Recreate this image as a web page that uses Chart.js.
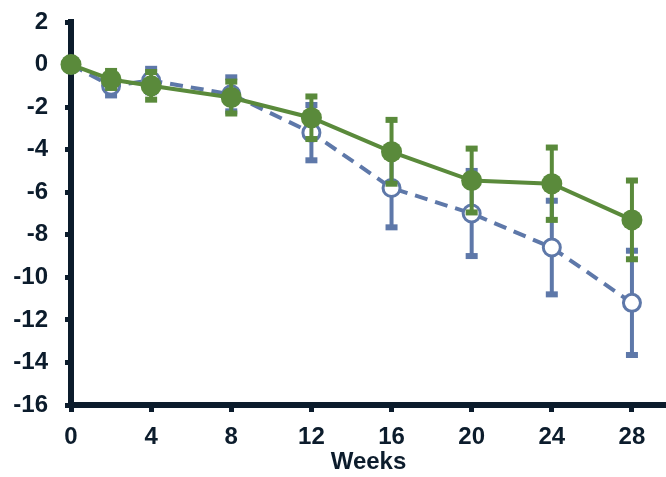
<!DOCTYPE html>
<html>
<head>
<meta charset="utf-8">
<script src="https://cdn.jsdelivr.net/npm/chart.js@4"></script>
<style>
  html, body { margin: 0; padding: 0; background: #fff; }
  #wrap { width: 666px; height: 477px; }
</style>
</head>
<body>
<div id="wrap"><canvas id="chart" width="666" height="477"></canvas></div>
<script>
// data
const weeks = [0, 2, 4, 8, 12, 16, 20, 24, 28];
const greenMean = [0, -0.7, -1.0, -1.55, -2.5, -4.1, -5.45, -5.6, -7.3];
const greenErr = [0, 0.4, 0.65, 0.75, 1.0, 1.5, 1.5, 1.7, 1.85];
const blueMean = [0, -1.0, -0.75, -1.4, -3.2, -5.8, -7.0, -8.6, -11.2];
const blueErr = [0, 0.45, 0.55, 0.8, 1.3, 1.85, 2.0, 2.2, 2.45];
const yTicks = [2, 0, -2, -4, -6, -8, -10, -12, -14, -16];

const GREEN = "#5a8a3b";
const BLUE = "#5e78a9";
const INK = "#0c1c2c";
const FONT = "'Liberation Sans', Arial, sans-serif";

function toPoints(means) {
    return weeks.map((w, i) => ({ x: w, y: means[i] }));
}

// draws error bars with the dataset's own scales, before its line
const errorBars = {
    id: "errorBars",
    beforeDatasetDraw(chart, args) {
        const ds = chart.data.datasets[args.index];
        if (!ds.errors) return;
        const xs = chart.scales.x, ys = chart.scales.y;
        const ctx = chart.ctx;
        ctx.save();
        ctx.strokeStyle = ds.borderColor;
        ctx.fillStyle = ds.borderColor;
        ctx.lineWidth = 4;
        ctx.setLineDash([]);
        ds.data.forEach((p, i) => {
            const e = ds.errors[i];
            if (!e) return;
            const px = xs.getPixelForValue(p.x);
            const top = ys.getPixelForValue(p.y + e);
            const bot = ys.getPixelForValue(p.y - e);
            ctx.beginPath();
            ctx.moveTo(px, top);
            ctx.lineTo(px, bot);
            ctx.stroke();
            ctx.fillRect(px - 6, top - 3, 12, 6);
            ctx.fillRect(px - 6, bot - 3, 12, 6);
        });
        ctx.restore();
    }
};

new Chart(document.getElementById("chart"), {
    type: "line",
    data: {
        datasets: [
            {
                label: "green",
                data: toPoints(greenMean),
                errors: greenErr,
                borderColor: GREEN,
                backgroundColor: GREEN,
                borderWidth: 4,
                pointRadius: 10.5,
                pointBorderWidth: 0,
                pointBackgroundColor: GREEN,
                tension: 0,
                clip: false
            },
            {
                label: "blue",
                data: toPoints(blueMean),
                errors: blueErr,
                borderColor: BLUE,
                backgroundColor: "#ffffff",
                borderWidth: 4,
                borderDash: [13, 8],
                pointRadius: 8.5,
                pointBorderWidth: 3,
                pointBorderColor: BLUE,
                pointBackgroundColor: "#ffffff",
                tension: 0,
                clip: false
            }
        ]
    },
    options: {
        responsive: false,
        animation: false,
        events: [],
        layout: { autoPadding: false, padding: { top: 22, right: 0, left: 0, bottom: 0 } },
        plugins: { legend: { display: false }, tooltip: { enabled: false } },
        scales: {
            x: {
                type: "linear",
                min: 0,
                max: 29.7,
                afterBuildTicks(scale) {
                    scale.ticks = weeks.filter(w => w % 4 === 0).map(v => ({ value: v }));
                },
                afterFit(scale) {
                    scale.height = 72;
                    scale.paddingLeft = 0;
                    scale.paddingRight = 0;
                },
                border: { display: true, color: INK, width: 6 },
                grid: { drawOnChartArea: false, drawTicks: true, tickLength: 7, tickWidth: 5, tickColor: INK },
                ticks: { color: INK, padding: 11, maxRotation: 0, font: { family: FONT, size: 24, weight: "bold" } },
                title: {
                    display: true,
                    text: "Weeks",
                    color: INK,
                    padding: { top: 0, bottom: 0 },
                    font: { family: FONT, size: 24, weight: "bold" }
                }
            },
            y: {
                min: -16,
                max: 2,
                afterBuildTicks(scale) {
                    scale.ticks = yTicks.map(v => ({ value: v }));
                },
                afterFit(scale) {
                    scale.width = 71;
                    scale.paddingTop = 0;
                    scale.paddingBottom = 0;
                },
                border: { display: true, color: INK, width: 6 },
                grid: { drawOnChartArea: false, drawTicks: true, tickLength: 6, tickWidth: 5, tickColor: INK },
                ticks: { color: INK, padding: 17, font: { family: FONT, size: 24, weight: "bold" } }
            }
        }
    },
    plugins: [errorBars]
});
</script>
</body>
</html>
